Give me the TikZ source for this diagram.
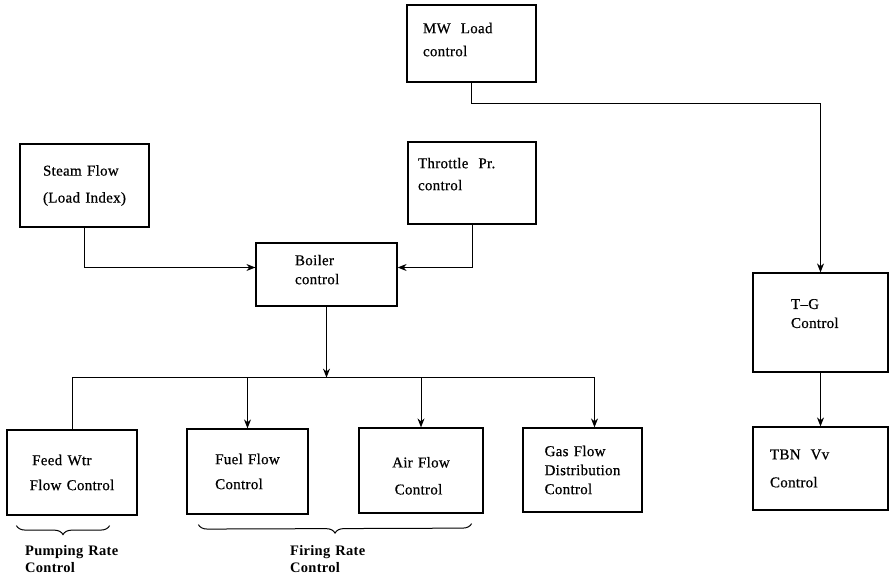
\documentclass[tikz,border=0pt]{standalone}
\usepackage{fontspec}
\setmainfont{Liberation Serif}[LetterSpace=2, WordSpace=1.3]
\newfontfamily\boxfont{Liberation Serif}[Ligatures=TeX, LetterSpace=2, WordSpace=1.3, FakeBold=0.6]
\usepackage{tikz}
\usetikzlibrary{arrows, arrows.meta, decorations.pathreplacing}
\tikzstyle{block} = [rectangle, draw=black, line width=1.2pt, align=left, inner sep=0pt, font=\boxfont\fontsize{15}{19}\selectfont]
\tikzstyle{arrow} = [line width=1pt,->,>={Stealth[length=9pt,width=7pt]}]
\tikzstyle{line} = [line width=1pt]
\tikzstyle{brace} = [line width=1pt, decorate, decoration={brace, mirror, amplitude=9pt}]
\tikzstyle{note} = [align=left, anchor=north west, inner sep=0pt, font=\fontsize{14.5}{17}\selectfont\bfseries]

\begin{document}
\begin{tikzpicture}[x=1pt, y=-1pt]
\useasboundingbox (0,0) rectangle (889,580);
\node (mw) [block, minimum width=129pt, minimum height=77pt, text width=97pt] at (471.5,43.5) {MW\ \ Load\\[4pt]control\\[-11pt]\mbox{}};
\node (throttle) [block, minimum width=128pt, minimum height=82pt, text width=108pt] at (472,183) {Throttle\ \ Pr.\\[3pt]control\\[-1pt]\mbox{}};
\node (steam) [block, minimum width=129pt, minimum height=83pt] at (84.5,185.5) {Steam Flow\\[8pt](Load Index)};
\node (boiler) [block, minimum width=141pt, minimum height=63pt, text width=63pt] at (326.5,274.5) {Boiler\\control\\[-9pt]\mbox{}};
\node (tg) [block, minimum width=135pt, minimum height=99pt, text width=59pt] at (820.5,322.5) {T--G\\Control\\[-1pt]\mbox{}};
\node (tbn) [block, minimum width=135pt, minimum height=83pt, text width=101pt] at (820.5,468.5) {TBN\ \ Vv\\[9pt]Control};
\node (feed) [block, minimum width=130pt, minimum height=85pt] at (72,472.5) {\,Feed Wtr\\[6pt]Flow Control};
\node (fuel) [block, minimum width=121pt, minimum height=85pt] at (247.5,471.5) {Fuel Flow\\[6pt]Control};
\node (air) [block, minimum width=124pt, minimum height=85pt] at (421,470.5) {\rule{0pt}{21pt}Air Flow\\[8pt]\,Control};
\node (gas) [block, minimum width=119pt, minimum height=84pt] at (582.5,470) {Gas Flow\\Distribution\\Control};

\node (pumping) [note] at (25,545) {Pumping Rate\\Control};
\node (firing) [note] at (290,545) {Firing Rate\\Control};

\draw[arrow] (mw.south) -- ++(0,21) -| (tg.north);
\draw[arrow] (throttle.south) |- ([yshift=7pt]boiler.east);
\draw[arrow] (steam.south) |- ([yshift=7pt]boiler.west);
\draw[arrow] (boiler.south) -- ++(0,71) coordinate (bus);
\draw[line] (bus) -| (feed.north);
\draw[arrow] (bus) -| (fuel.north);
\draw[arrow] (bus) -| (air.north);
\draw[arrow] (bus) -| ([xshift=12pt]gas.north);
\draw[arrow] (tg.south) -- (tbn.north);

\draw[brace] ([xshift=10pt,yshift=-10pt]feed.south west) -- ([xshift=-28pt,yshift=-10pt]feed.south east);
\draw[brace] ([xshift=12pt,yshift=-10pt]fuel.south west) -- ([xshift=-12pt,yshift=-10pt]air.south east);

\end{tikzpicture}
\end{document}
